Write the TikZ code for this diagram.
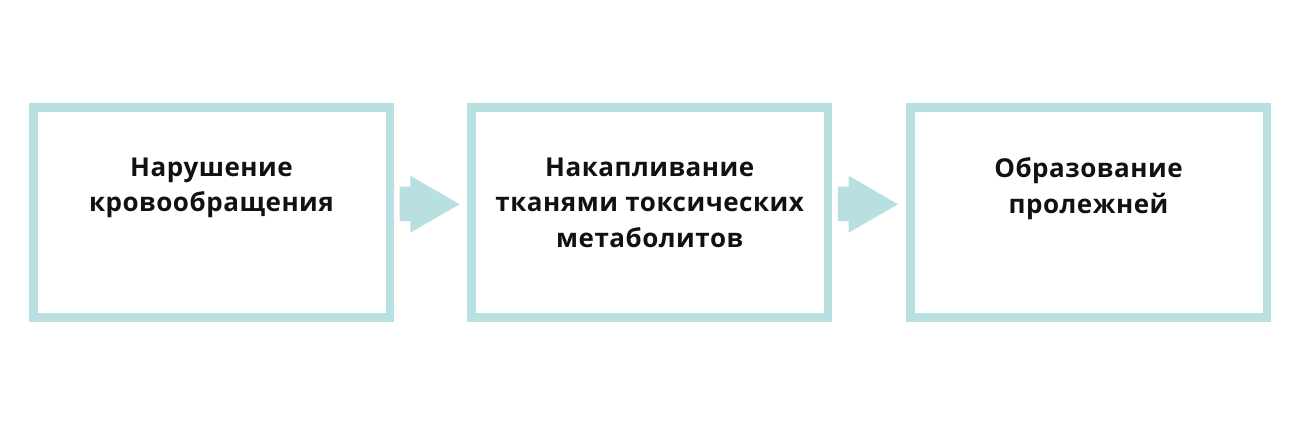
\documentclass[tikz,border=0pt]{standalone}
\usepackage{fontspec}
\setmainfont[LetterSpace=2]{Open Sans}
\definecolor{boxteal}{HTML}{B9E0E0}
\definecolor{txt}{HTML}{111111}
\begin{document}
\begin{tikzpicture}[x=1pt,y=-1pt,
  stepbox/.style={draw=boxteal, line width=8.5pt, minimum width=356.5pt, minimum height=210pt, inner sep=0pt},
  steptext/.style={text=txt, font=\fontsize{26}{35.5}\selectfont\bfseries, align=center, anchor=north, inner sep=0pt},
  blockarrow/.style={fill=boxteal}]
\useasboundingbox (0,0) rectangle (1300,426);
\node[stepbox] (b1) at (211.5,212.5) {};
\node[stepbox] (b2) at (649.75,212.5) {};
\node[stepbox] (b3) at (1088.5,212.5) {};
\node[steptext] (t1) at (211.5,157.5) {Нарушение\\кровообращения};
\node[steptext] (t2) at (649.75,157.5) {Накапливание\\тканями токсических\\метаболитов};
\node[steptext] (t3) at (1088.5,157.5) {Образование\\пролежней};
\foreach \b in {b1,b2}{
  \begin{scope}[shift={(\b.east)}]
    \fill[blockarrow] (5.7,-25.8) -- (16.4,-25.8) -- (16.4,-36.8) -- (65.7,-8.2) -- (16.4,20.2) -- (16.4,8.5) -- (5.7,8.5) -- cycle;
  \end{scope}
}
\end{tikzpicture}
\end{document}
